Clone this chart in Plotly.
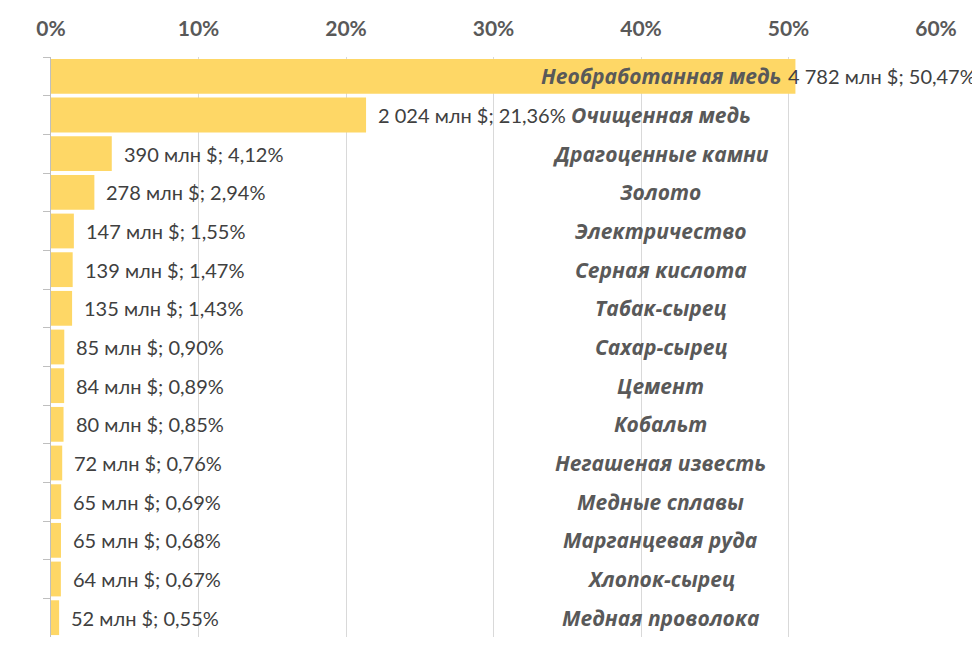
import plotly.graph_objects as go

# экспорт, млн $ и доля, %
товары = ["Необработанная медь", "Очищенная медь", "Драгоценные камни", "Золото",
          "Электричество", "Серная кислота", "Табак-сырец", "Сахар-сырец", "Цемент",
          "Кобальт", "Негашеная известь", "Медные сплавы", "Марганцевая руда",
          "Хлопок-сырец", "Медная проволока"]
сумма = [4782, 2024, 390, 278, 147, 139, 135, 85, 84, 80, 72, 65, 65, 64, 52]
доля = [50.47, 21.36, 4.12, 2.94, 1.55, 1.47, 1.43, 0.90, 0.89, 0.85, 0.76, 0.69, 0.68, 0.67, 0.55]
x_ticks = [0, 0.1, 0.2, 0.3, 0.4, 0.5, 0.6]

FONT = "Lato"

share = [d / 100 for d in доля]

fig = go.Figure()
fig.add_trace(go.Bar(
    y=товары, x=share, orientation="h",
    marker=dict(color="#FED766", line=dict(width=0)),
    hoverinfo="skip",
))

# подписи значений справа от столбиков
for name, s, d in zip(товары, сумма, доля):
    txt = "{} млн $; {}%".format(f"{s:,}".replace(",", " "), f"{d:.2f}".replace(".", ","))
    fig.add_annotation(x=d / 100, y=name, xref="x", yref="y", text=txt,
                       showarrow=False, xanchor="left", xshift=-9 if d > 50 else 10,
                       font=dict(family=FONT, size=20, color="#404040"))

# названия товаров по центру
for name in товары:
    fig.add_annotation(x=0.4135, y=name, xref="x", yref="y", text="<b><i>" + name + "</i></b>",
                       showarrow=False, xanchor="center",
                       font=dict(family="Open Sans", size=21, color="#595959"))

# страница сдвигает график на 8px (отступ body), поэтому поля меньше
fig.update_layout(
    width=972, height=654,
    margin=dict(l=43, r=44, t=49, b=25),
    paper_bgcolor="white", plot_bgcolor="white",
    bargap=0.1, showlegend=False,
    font=dict(family=FONT, color="#595959"),
)
fig.update_xaxes(
    side="top", range=[0, 0.6], tickvals=x_ticks,
    ticktext=["<b>{}%</b>".format(int(round(t * 100))) for t in x_ticks],
    tickfont=dict(size=21, color="#595959"),
    showgrid=True, gridcolor="#D9D9D9", gridwidth=1,
    zeroline=False, showline=False, ticks="", ticklabelstandoff=16,
    automargin=False,
)
fig.update_yaxes(
    autorange="reversed", showticklabels=False,
    showline=True, linecolor="#BFBFBF", linewidth=1,
    ticks="outside", tickson="boundaries", ticklen=7, tickcolor="#BFBFBF",
    showgrid=False, automargin=False,
)

fig.write_html("out.html")
